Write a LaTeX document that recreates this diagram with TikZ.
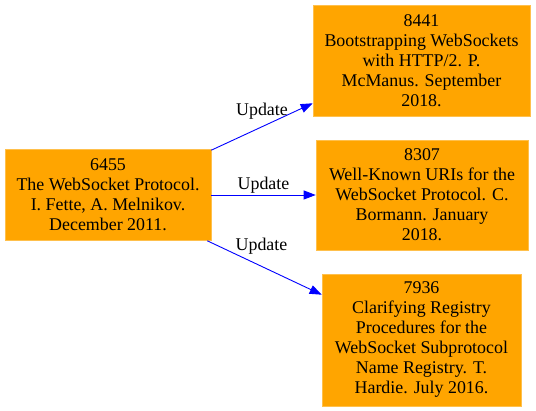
\documentclass[tikz,border=0pt]{standalone}
\usepackage{fontspec}
\setmainfont{Liberation Serif}
\usetikzlibrary{arrows.meta}
\definecolor{rfcorange}{HTML}{FFA500}
\begin{document}
\begin{tikzpicture}[x=1pt,y=1pt,
  rfc/.style={fill=rfcorange, draw=rfcorange!70!white, line width=0.6pt, inner sep=0pt, align=center,
    font=\fontsize{17.9}{20}\selectfont},
  upd/.style={draw=blue, line width=0.9pt, -{Triangle[length=12pt,width=9pt]}},
  lbl/.style={font=\fontsize{17.9}{20}\selectfont, inner sep=0pt}]
\useasboundingbox (0,0) rectangle (536,411);
\node[rfc, minimum width=206, minimum height=91] (a) at (108,216) {6455\\The WebSocket Protocol.\\I. Fette, A. Melnikov.\\December 2011.};
\node[rfc, minimum width=217, minimum height=111] (b) at (421.5,350.5) {8441\\Bootstrapping WebSockets\\with HTTP/2. P.\\McManus. September\\2018.};
\node[rfc, minimum width=212, minimum height=110] (c) at (422,216) {8307\\Well-Known URIs for the\\WebSocket Protocol. C.\\Bormann. January\\2018.};
\node[rfc, minimum width=199, minimum height=132] (d) at (421.5,71) {7936\\Clarifying Registry\\Procedures for the\\WebSocket Subprotocol\\Name Registry. T.\\Hardie. July 2016.};
\draw[upd] ([yshift=-1pt]a.north east) -- ([yshift=13pt]b.south west) node[lbl, pos=0.5, above=7pt] (l1) {Update};
\draw[upd] (a.east) -- (c.west) node[lbl, pos=0.5, above=1pt] (l2) {Update};
\draw[upd] ([xshift=-4pt]a.south east) -- ([yshift=-21pt]d.north west) node[lbl, pos=0.5, above=13pt, xshift=-3pt] (l3) {Update};
\end{tikzpicture}
\end{document}
